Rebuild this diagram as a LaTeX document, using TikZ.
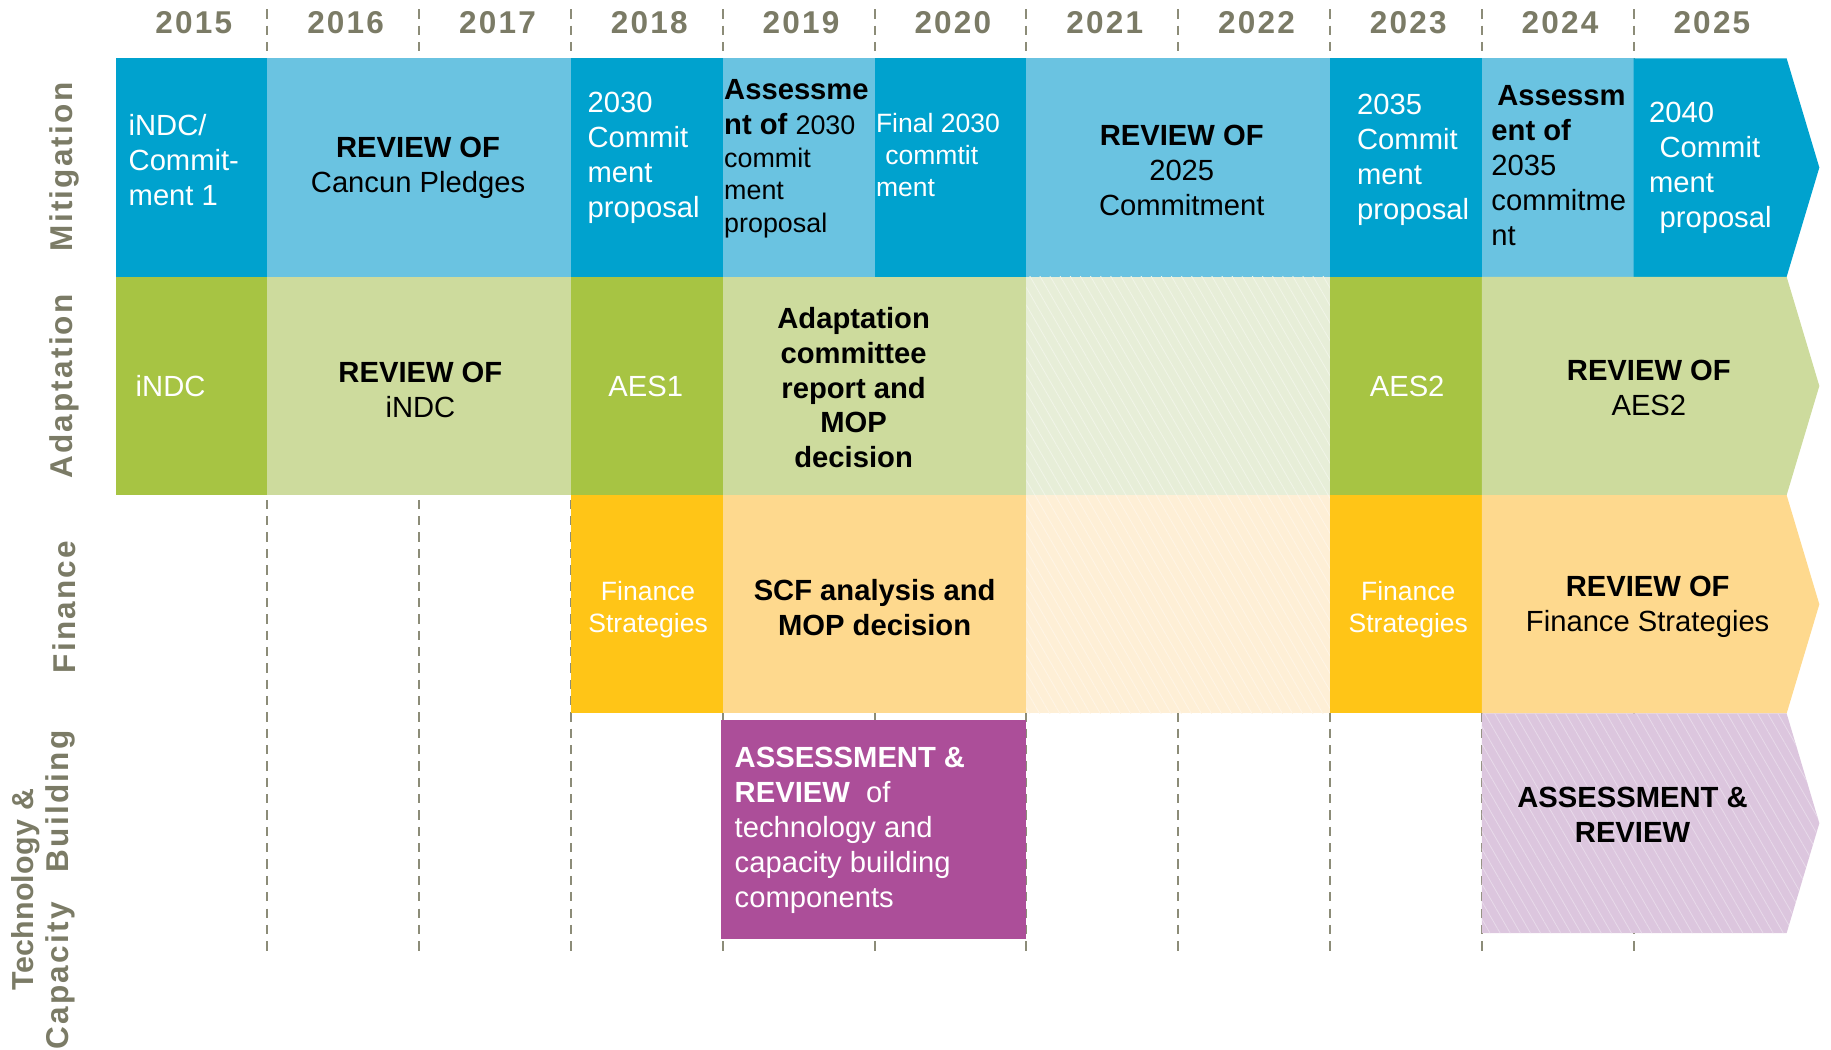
\documentclass[tikz,border=0pt]{standalone}
\usepackage{fontspec}
\setmainfont{Liberation Sans}
\newfontfamily\lblfont{Liberation Sans}[LetterSpace=7]
\newfontfamily\lblfontb{Liberation Sans}[LetterSpace=1]
\usetikzlibrary{patterns.meta}
\definecolor{mitD}{HTML}{00A2CE}
\definecolor{mitL}{HTML}{6AC3E1}
\definecolor{adaD}{HTML}{A7C443}
\definecolor{adaL}{HTML}{CDDB9D}
\definecolor{adaH}{HTML}{E7EED8}
\definecolor{finD}{HTML}{FFC517}
\definecolor{finL}{HTML}{FED98E}
\definecolor{finH}{HTML}{FEEFD6}
\definecolor{purD}{HTML}{AC4E99}
\definecolor{purH}{HTML}{DCC6DE}
\definecolor{lblgray}{HTML}{7B7B66}
\definecolor{gridgray}{HTML}{8C8C78}
\begin{document}
\begin{tikzpicture}[x=1pt,y=-1pt,
  txt/.style={inner sep=0pt, font=\fontsize{25}{30}\selectfont},
  wl/.style={txt, text=white, align=left, anchor=west},
  bl/.style={txt, text=black, align=left, anchor=west},
  bc/.style={txt, text=black, align=center},
  wc/.style={txt, text=white, align=center},
  small/.style={font=\fontsize{22.7}{27.5}\selectfont},
  yearlbl/.style={inner sep=0pt, font=\lblfont\bfseries\fontsize{27}{30}\selectfont, text=lblgray},
  rowlbl/.style={inner sep=0pt, font=\lblfont\bfseries\fontsize{27}{30}\selectfont, text=lblgray, rotate=90, align=center},
  gridline/.style={draw=gridgray, line width=1.8pt, dash pattern=on 8pt off 6pt},
  hatch/.style={pattern={Lines[angle=-60,distance=7.5pt,line width=0.7pt]}, pattern color=#1}
]
\useasboundingbox (0,0) rectangle (1568,899);

% grid lines
\foreach \i in {1,...,10}{
  \draw[gridline] (99+130*\i,8) -- (99+130*\i,816);
}

% years
\foreach \yr [count=\i from 0] in {2015,2016,2017,2018,2019,2020,2021,2022,2023,2024,2025}{
  \node[yearlbl] (y\yr) at (166+130*\i,19) {\yr};
}

% row labels
\node[rowlbl] (lmit) at (55,143) {Mitigation};
\node[rowlbl] (lada) at (55,331) {Adaptation};
\node[rowlbl] (lfin) at (55,520) {Finance};
\node[rowlbl] (ltec) at (37,762) {{\lblfontb\bfseries\fontsize{26}{30}\selectfont Technology \&}\\Capacity\hspace{26pt}Building};

% ---------- Mitigation row (50-237)
\fill[mitD] (99,50) rectangle (229,237);
\fill[mitL] (229,50) rectangle (489,237);
\fill[mitD] (489,50) rectangle (619,237);
\fill[mitL] (619,50) rectangle (749,237);
\fill[mitD] (749,50) rectangle (879,237);
\fill[mitL] (879,50) rectangle (1139,237);
\fill[mitD] (1139,50) rectangle (1269,237);
\fill[mitL] (1269,50) rectangle (1399,237);
\fill[mitD] (1399,50) -- (1530,50) -- (1558,143.5) -- (1530,237) -- (1399,237) -- cycle;

\node[wl] (m1) at (110,137) {iNDC/\\Commit-\\ment 1};
\node[bc] (m2) at (358,144) {\textbf{REVIEW OF}\\Cancun Pledges};
\node[wl] (m3) at (503,135) {2030\\Commit\\ment\\proposal};
\node[bl] (m4) at (620,136) {\textbf{Assessme}\\\textbf{nt of} {\fontsize{23}{28}\selectfont 2030}\\[-2pt]{\fontsize{23}{28}\selectfont commit}\\[-2pt]{\fontsize{23}{28}\selectfont ment}\\[-2pt]{\fontsize{23}{28}\selectfont proposal}};
\node[wl, small] (m5) at (750,133) {Final 2030\\\hspace{8pt}commtit\\ment};
\node[bc] (m6) at (1012,146) {\textbf{REVIEW OF}\\2025\\Commitment};
\node[wl] (m7) at (1162,137) {2035\\Commit\\ment\\proposal};
\node[bl] (m8) at (1277,142) {\hspace{5pt}\textbf{Assessm}\\\textbf{ent of}\\2035\\commitme\\nt};
\node[wl] (m9) at (1412,144) {2040\\\hspace{9pt}Commit\\ment\\\hspace{9pt}proposal};

% ---------- Adaptation row (237-424)
\fill[adaD] (99,237) rectangle (229,424);
\fill[adaL] (229,237) rectangle (489,424);
\fill[adaD] (489,237) rectangle (619,424);
\fill[adaL] (619,237) rectangle (879,424);
\fill[adaH] (879,237) rectangle (1139,424);
\fill[hatch=white!40!adaH] (879,237) rectangle (1139,424);
\fill[adaD] (1139,237) rectangle (1269,424);
\fill[adaL] (1269,237) -- (1530,237) -- (1558,330.5) -- (1530,424) -- (1269,424) -- cycle;

\node[wl] (a1) at (116,331) {iNDC};
\node[bc] (a2) at (360,334) {\textbf{REVIEW OF}\\iNDC};
\node[wc] (a3) at (553,331) {AES1};
\node[bc, font=\bfseries\fontsize{25}{29.75}\selectfont] (a4) at (731,332) {Adaptation\\committee\\report and\\MOP\\decision};
\node[wc] (a5) at (1205,331) {AES2};
\node[bc] (a6) at (1412,332) {\textbf{REVIEW OF}\\AES2};

% ---------- Finance row (424-611)
\fill[finD] (489,424) rectangle (619,611);
\fill[finL] (619,424) rectangle (879,611);
\fill[finH] (879,424) rectangle (1139,611);
\fill[hatch=white!40!finH] (879,424) rectangle (1139,611);
\fill[finD] (1139,424) rectangle (1269,611);
\fill[finL] (1269,424) -- (1530,424) -- (1558,517.5) -- (1530,611) -- (1269,611) -- cycle;

\node[wc, small] (f1) at (555,522) {Finance\\Strategies};
\node[bc, font=\bfseries\fontsize{25}{30}\selectfont] (f2) at (749,520) {SCF analysis and\\MOP decision};
\node[wc, small] (f3) at (1206,522) {Finance\\Strategies};
\node[bc] (f4) at (1411,520) {\textbf{REVIEW OF}\\Finance Strategies};

% ---------- Technology row (611-798)
\fill[purD] (617.5,617) rectangle (878.5,804);
\fill[purH] (1269,611) -- (1530,611) -- (1558,705) -- (1530,799) -- (1269,799) -- cycle;
\fill[hatch=white!35!purH] (1269,611) -- (1530,611) -- (1558,705) -- (1530,799) -- (1269,799) -- cycle;

\node[wl] (t1) at (629,711) {\textbf{ASSESSMENT \&}\\\textbf{REVIEW}\ \ of\\technology and\\capacity building\\components};
\node[bc] (t2) at (1398,698) {\textbf{ASSESSMENT \&}\\\textbf{REVIEW}};
\end{tikzpicture}
\end{document}
